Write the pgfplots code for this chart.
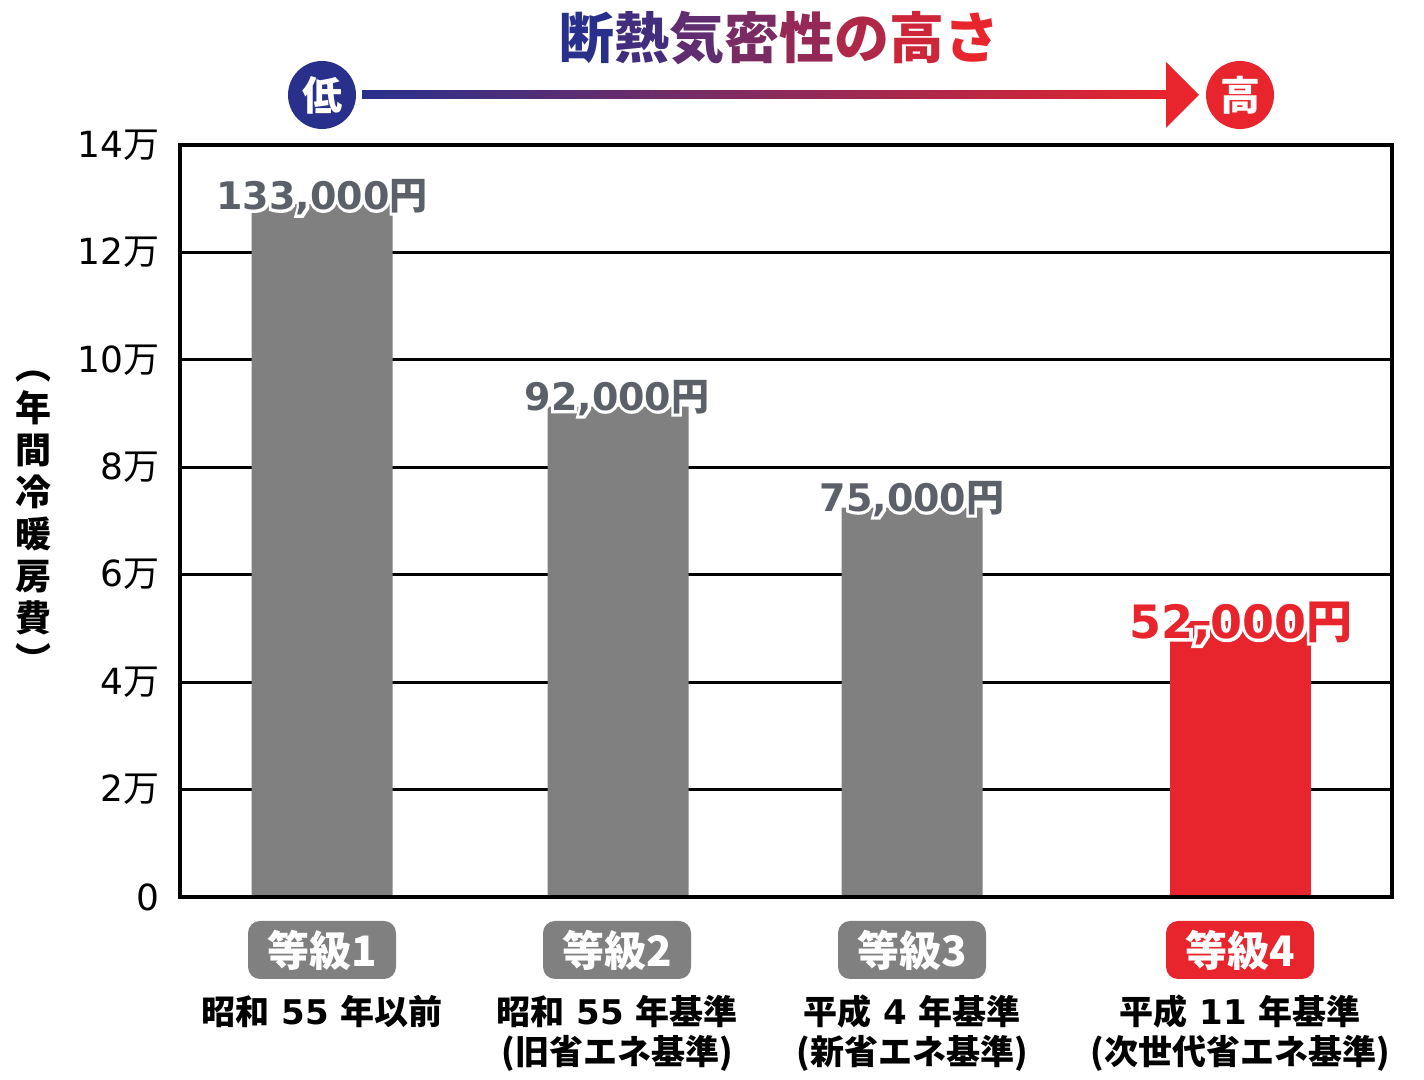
\documentclass[border=0pt]{standalone}
\usepackage{fontspec}
\setmainfont{DejaVu Sans}
\newfontfamily\jp{Noto Sans CJK JP}
\newfontfamily\olat{DejaVu Sans Bold}[FakeBold=16]
\newfontfamily\ojp{Noto Sans CJK JP Bold}[FakeBold=16]
\newcommand\jj[1]{{\jp #1}}
\usepackage{pgfplots}
\pgfplotsset{compat=1.18}
\definecolor{bargray}{RGB}{128,128,128}
\definecolor{myred}{RGB}{232,36,44}
\definecolor{myblue}{RGB}{40,48,140}
\definecolor{lblgray}{RGB}{92,96,104}
\newcommand\vlab[4]{% pos, size, color, number
  \node[text=white, font=\olat\fontsize{#2}{#2}\selectfont] at (#1) {#4{\ojp 円}};
  \node[text=#3, font=\bfseries\fontsize{#2}{#2}\selectfont] at (#1) {#4\jj{円}};
}
\begin{document}
\begin{tikzpicture}
\path[use as bounding box] (0,0) rectangle (712pt,540pt);
\begin{axis}[
  at={(90pt,91.5pt)}, anchor=south west, scale only axis,
  width=606pt, height=376pt,
  xmin=180, xmax=1392, ymin=0, ymax=140000,
  xtick=\empty,
  scaled y ticks=false,
  ytick={0,20000,40000,60000,80000,100000,120000,140000},
  yticklabels={0,2\jj{万},4\jj{万},6\jj{万},8\jj{万},10\jj{万},12\jj{万},14\jj{万}},
  ymajorgrids, grid style={black, line width=1.4pt},
  axis line style={black, line width=1.6pt},
  major tick length=0pt,
  yticklabel style={anchor=east, inner sep=0pt, xshift=-10pt, font=\fontsize{18}{18}\selectfont},
  clip=false,
]
\addplot[ybar, bar width=141, bar shift=0pt, fill=bargray, draw=none] coordinates {(322,129000) (618,91300) (912,72500)};
\addplot[ybar, bar width=141, bar shift=0pt, fill=myred, draw=none] coordinates {(1240,51300)};
\draw[black, line width=1.6pt] (rel axis cs:0,0) rectangle (rel axis cs:1,1);
\vlab{axis cs:322,130300}{19}{lblgray}{133,000}
\vlab{axis cs:617,92900}{19}{lblgray}{92,000}
\vlab{axis cs:912,74100}{19}{lblgray}{75,000}
\vlab{axis cs:1241,51000}{23}{myred}{52,000}
\end{axis}
\begin{scope}[x=0.5pt,y=-0.5pt,yshift=540pt]
% title
\node[font=\jp\bfseries\fontsize{27.5}{28}\selectfont, inner sep=0pt] at (779,38) {%
\textcolor{myred!0!myblue}{断}\textcolor{myred!14!myblue}{熱}\textcolor{myred!29!myblue}{気}\textcolor{myred!43!myblue}{密}\textcolor{myred!57!myblue}{性}\textcolor{myred!71!myblue}{の}\textcolor{myred!86!myblue}{高}\textcolor{myred!100!myblue}{さ}};
% arrow
\shade[left color=myblue, right color=myred] (362,91) rectangle (1172,99);
\fill[myred] (1166,62) -- (1199,95) -- (1166,128) -- cycle;
\fill[myblue] (322,95) circle[radius=34];
\fill[myred] (1240,95) circle[radius=34];
\node[text=white, font=\jp\bfseries\fontsize{20}{20}\selectfont] at (322,95) {低};
\node[text=white, font=\jp\bfseries\fontsize{20}{20}\selectfont] at (1240,95) {高};
% y label
\node[font=\jp\bfseries\fontsize{18}{21}\selectfont, align=center, inner sep=0pt] at (33,522) {︵\\年\\間\\冷\\暖\\房\\費\\︶};
% badges
\foreach \cx/\lab/\col in {322/等級1/bargray, 617/等級2/bargray, 912/等級3/bargray, 1240/等級4/myred}{
  \node[fill=\col, rounded corners=6pt, minimum width=74pt, minimum height=29pt, inner sep=0pt, text=white, font=\jp\bfseries\fontsize{21}{21}\selectfont] at (\cx,950) {\lab};
}
\node[font=\bfseries\fontsize{17}{17}\selectfont] at (322,1012) {\jj{昭和} 55 \jj{年以前}};
\node[font=\bfseries\fontsize{17}{17}\selectfont] at (617,1012) {\jj{昭和} 55 \jj{年基準}};
\node[font=\bfseries\fontsize{17}{17}\selectfont] at (617,1053) {\jj{(旧省エネ基準)}};
\node[font=\bfseries\fontsize{17}{17}\selectfont] at (912,1012) {\jj{平成} 4 \jj{年基準}};
\node[font=\bfseries\fontsize{17}{17}\selectfont] at (912,1053) {\jj{(新省エネ基準)}};
\node[font=\bfseries\fontsize{17}{17}\selectfont] at (1240,1012) {\jj{平成} 11 \jj{年基準}};
\node[font=\bfseries\fontsize{17}{17}\selectfont] at (1240,1053) {\jj{(次世代省エネ基準)}};
\end{scope}
\end{tikzpicture}
\end{document}
